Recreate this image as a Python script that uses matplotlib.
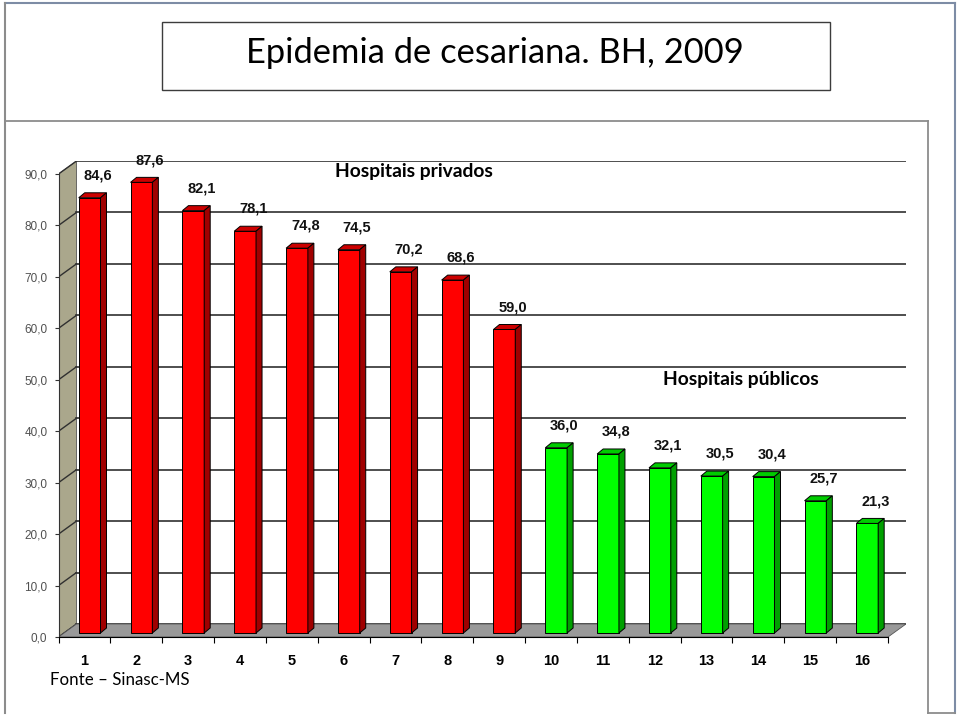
import matplotlib.pyplot as plt
from matplotlib.patches import Polygon, Rectangle

### --- data
categories = [str(i) for i in range(1, 17)]
privados = [84.6, 87.6, 82.1, 78.1, 74.8, 74.5, 70.2, 68.6, 59.0]
publicos = [36.0, 34.8, 32.1, 30.5, 30.4, 25.7, 21.3]
values = privados + publicos
y_ticks = list(range(0, 100, 10))

title = "Epidemia de cesariana. BH, 2009"
label_priv = "Hospitais privados"
label_pub = "Hospitais públicos"
fonte = "Fonte \u2013 Sinasc-MS"

### --- styles
red = ("#ff0000", "#cc0000", "#a00000")     # front, top, side
green = ("#00ff00", "#00cc00", "#00a000")
wall_col = "#aaa78c"
floor_col = "#999999"
grid_col = "#303030"

W, H = 960, 716
fig = plt.figure(figsize=(W / 100, H / 100), dpi=100)

# overlay in pixel coordinates for the slide decoration
bg = fig.add_axes([0, 0, 1, 1], zorder=0)
bg.set_xlim(0, W)
bg.set_ylim(H, 0)
bg.axis("off")
slide = "#7d8ca5"
box = "#8c8c8c"
bg.plot([5, 955], [3, 3], color=slide, lw=1.5)
bg.plot([5, 5], [3, 713], color=box, lw=1.5)
bg.plot([955, 955], [3, 713], color=slide, lw=1.5)
bg.plot([5, 928], [121, 121], color=box, lw=1.3)
bg.plot([928, 928], [121, 713], color=box, lw=1.3)
bg.plot([928, 955], [713, 713], color=box, lw=1.3)
bg.add_patch(Rectangle((162, 22), 668, 68, fill=False, ec="#3c3c3c", lw=1.0))
bg.text(495, 53, title, fontsize=24.8, family="Lato", ha="center", va="center")
bg.text(50, 680, fonte, fontsize=12.2, family="Lato", ha="left", va="center")

# top overlay for the group captions
fg = fig.add_axes([0, 0, 1, 1], zorder=3)
fg.set_xlim(0, W)
fg.set_ylim(H, 0)
fg.axis("off")
fg.text(414, 171, label_priv, fontsize=13.9, family="Lato", weight="bold", ha="center", va="center")
fg.text(741, 379, label_pub, fontsize=13.9, family="Lato", weight="bold", ha="center", va="center")

# depth of the fake 3D box (data units) and bar geometry
dx, dy = 0.347, 2.53
bx, by = 0.10, 0.78
bdx, bdy = 0.116, 0.97
x_left, x_right = 0.5, len(categories) + 0.5
y_top = 90

ax_l, ax_r, ax_b, ax_t = 58.5, 906, 637, 161
ax = fig.add_axes([ax_l / W, (H - ax_b) / H, (ax_r - ax_l) / W, (ax_b - ax_t) / H], zorder=1)
ax.set_facecolor("none")
ax.set_xlim(x_left, x_right + dx)
ax.set_ylim(0, y_top + dy)

# back wall, left wall and floor
ax.add_patch(Rectangle((x_left + dx, dy), x_right - x_left, y_top, fc="white", ec="none", zorder=0))
ax.add_patch(Polygon([(x_left, 0), (x_left + dx, dy), (x_left + dx, y_top + dy), (x_left, y_top)],
                     closed=True, fc=wall_col, ec="#555555", lw=0.6, zorder=1))
for v in y_ticks:
    ax.plot([x_left + dx, x_right + dx], [v + dy, v + dy], color=grid_col, lw=1.2, zorder=1)
    ax.plot([x_left, x_left + dx], [v, v + dy], color=grid_col, lw=1.0, zorder=1)
ax.add_patch(Polygon([(x_left, 0), (x_right, 0), (x_right + dx, dy), (x_left + dx, dy)],
                     closed=True, fc=floor_col, ec="#555555", lw=0.6, zorder=2))

# bars
xs = list(range(1, len(categories) + 1))
palette = [red] * len(privados) + [green] * len(publicos)
bars = ax.bar([x + bx for x in xs], values, width=0.42, bottom=by,
              color=[p[0] for p in palette], edgecolor="black", linewidth=0.7, zorder=4)
for rect, pal, v in zip(bars, palette, values):
    x0, y0 = rect.get_x(), rect.get_y()
    w, h = rect.get_width(), rect.get_height()
    top = [(x0, y0 + h), (x0 + w, y0 + h), (x0 + w + bdx, y0 + h + bdy), (x0 + bdx, y0 + h + bdy)]
    side = [(x0 + w, y0), (x0 + w + bdx, y0 + bdy), (x0 + w + bdx, y0 + h + bdy), (x0 + w, y0 + h)]
    ax.add_patch(Polygon(top, closed=True, fc=pal[1], ec="black", lw=0.7, zorder=4))
    ax.add_patch(Polygon(side, closed=True, fc=pal[2], ec="black", lw=0.7, zorder=4))
    ax.annotate(f"{v:.1f}".replace(".", ","), (x0 + w / 2 + 0.16, y0 + h),
                xytext=(0, 16), textcoords="offset points", ha="center", va="center",
                fontsize=10.5, weight="bold", family="Liberation Sans", color="#111111",
                annotation_clip=False, zorder=5)

# axes
for s in ["top", "right"]:
    ax.spines[s].set_visible(False)
ax.spines["left"].set_bounds(0, y_top)
ax.spines["bottom"].set_bounds(x_left, x_right)
ax.spines["left"].set_color("#333333")
ax.spines["bottom"].set_color("black")
ax.spines["left"].set_zorder(3)
ax.spines["bottom"].set_zorder(3)

ax.set_yticks(y_ticks)
ax.set_yticklabels([f"{v:.1f}".replace(".", ",") for v in y_ticks],
                   fontsize=8.5, family="Liberation Sans", color="#505050")
ax.tick_params(axis="y", length=3, pad=5, color="#333333")

ax.set_xticks([x + 0.5 for x in range(0, len(categories) + 1)])
ax.set_xticklabels([])
ax.tick_params(axis="x", which="major", length=4, color="black")
ax.set_xticks(xs, minor=True)
ax.set_xticklabels(categories, minor=True, fontsize=10.5, weight="bold", family="Liberation Sans")
ax.tick_params(axis="x", which="minor", length=0, pad=12)

fig.savefig("out.png", dpi=100)
